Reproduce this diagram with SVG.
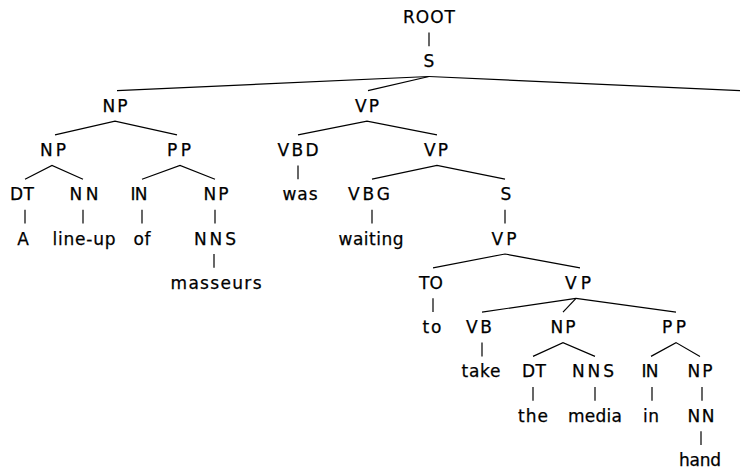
<svg xmlns="http://www.w3.org/2000/svg" width="740" height="469" viewBox="0 0 740 469">
  <style>
    text { font-family: "DejaVu Sans", Verdana, sans-serif; font-size: 17px; fill: #000; stroke: #000; stroke-width: 0.25; text-anchor: middle; }
    .edges line, .edges polyline { stroke: #000; stroke-width: 1.2; fill: none; }
  </style>
  <rect width="740" height="469" fill="#fff"/>

  <!-- tree edges -->
  <g class="edges" id="edges">
    <line x1="429" y1="32.5" x2="429" y2="46.3"/>
    <line x1="429" y1="76.5" x2="117" y2="90.6"/>
    <line x1="429" y1="76.5" x2="368" y2="90.6"/>
    <line x1="429" y1="76.5" x2="740" y2="90.7"/>
    <polyline points="55,134.9 115,121.1 177,134.9"/>
    <polyline points="298,134.9 367,121.1 437,134.9"/>
    <polyline points="25,179.2 52,165.4 83,179.2"/>
    <polyline points="142,179.2 180,165.4 215,179.2"/>
    <line x1="298" y1="165.4" x2="298" y2="179.2"/>
    <polyline points="372,179.2 437,165.4 505,179.2"/>
    <line x1="25" y1="209.7" x2="25" y2="223.5"/>
    <line x1="83" y1="209.7" x2="83" y2="223.5"/>
    <line x1="142" y1="209.7" x2="142" y2="223.5"/>
    <line x1="215" y1="209.7" x2="215" y2="223.5"/>
    <line x1="372" y1="209.7" x2="372" y2="223.5"/>
    <line x1="505" y1="209.7" x2="505" y2="223.5"/>
    <line x1="214" y1="254" x2="214" y2="267.8"/>
    <polyline points="433,267.8 505,254 580,267.8"/>
    <line x1="433" y1="298.3" x2="433" y2="312.1"/>
    <line x1="576" y1="298.3" x2="482" y2="312.1"/>
    <line x1="576" y1="298.3" x2="563" y2="312.1"/>
    <line x1="576" y1="298.3" x2="676" y2="312.1"/>
    <line x1="482" y1="342.6" x2="482" y2="356.4"/>
    <polyline points="533,356.4 563,342.6 595,356.4"/>
    <polyline points="651,356.4 676,342.6 700,356.4"/>
    <line x1="533" y1="386.9" x2="533" y2="400.7"/>
    <line x1="595" y1="386.9" x2="595" y2="400.7"/>
    <line x1="652" y1="386.9" x2="652" y2="400.7"/>
    <line x1="702" y1="386.9" x2="702" y2="400.7"/>
    <line x1="701" y1="431.2" x2="701" y2="445"/>
  </g>

  <!-- level 0-1 -->
  <g id="n-root"><text x="429" y="23" textLength="52" lengthAdjust="spacing">ROOT</text></g>
  <g id="n-s"><text x="429" y="67.3">S</text></g>

  <!-- level 2 -->
  <g id="n-np-subj"><text x="115" y="111.6" textLength="25" lengthAdjust="spacing">NP</text></g>
  <g id="n-vp-main"><text x="367" y="111.6" textLength="24" lengthAdjust="spacing">VP</text></g>

  <!-- level 3 -->
  <g id="n-np-head"><text x="53" y="155.9" textLength="26" lengthAdjust="spacing">NP</text></g>
  <g id="n-pp-of"><text x="179" y="155.9" textLength="24" lengthAdjust="spacing">PP</text></g>
  <g id="n-vbd"><text x="298" y="155.9" textLength="41" lengthAdjust="spacing">VBD</text></g>
  <g id="n-vp-prog"><text x="436" y="155.9" textLength="24" lengthAdjust="spacing">VP</text></g>

  <!-- level 4 -->
  <g id="n-dt-a"><text x="22" y="200.2" textLength="24" lengthAdjust="spacing">DT</text></g>
  <g id="n-nn-lineup"><text x="84" y="200.2" textLength="29" lengthAdjust="spacing">NN</text></g>
  <g id="n-in-of"><text x="139" y="200.2" textLength="17" lengthAdjust="spacing">IN</text></g>
  <g id="n-np-masseurs"><text x="216" y="200.2" textLength="25" lengthAdjust="spacing">NP</text></g>
  <g id="n-was"><text x="300" y="200.2" textLength="35" lengthAdjust="spacing">was</text></g>
  <g id="n-vbg"><text x="369" y="200.2" textLength="42" lengthAdjust="spacing">VBG</text></g>
  <g id="n-s-inf"><text x="506" y="200.2">S</text></g>

  <!-- level 5 -->
  <g id="n-a"><text x="23" y="244.5">A</text></g>
  <g id="n-lineup"><text x="84" y="244.5" textLength="63" lengthAdjust="spacing">line-up</text></g>
  <g id="n-of"><text x="142" y="244.5" textLength="17" lengthAdjust="spacing">of</text></g>
  <g id="n-nns-masseurs"><text x="215" y="244.5" textLength="42" lengthAdjust="spacing">NNS</text></g>
  <g id="n-waiting"><text x="371" y="244.5" textLength="65" lengthAdjust="spacing">waiting</text></g>
  <g id="n-vp-inf"><text x="504" y="244.5" textLength="25" lengthAdjust="spacing">VP</text></g>

  <!-- level 6 -->
  <g id="n-masseurs"><text x="216" y="288.8" textLength="91" lengthAdjust="spacing">masseurs</text></g>
  <g id="n-to-tag"><text x="431" y="288.8" textLength="24" lengthAdjust="spacing">TO</text></g>
  <g id="n-vp-take"><text x="578" y="288.8" textLength="26" lengthAdjust="spacing">VP</text></g>

  <!-- level 7 -->
  <g id="n-to"><text x="432" y="333.1" textLength="19" lengthAdjust="spacing">to</text></g>
  <g id="n-vb"><text x="479" y="333.1" textLength="26" lengthAdjust="spacing">VB</text></g>
  <g id="n-np-media"><text x="563" y="333.1" textLength="25" lengthAdjust="spacing">NP</text></g>
  <g id="n-pp-in"><text x="674" y="333.1" textLength="24" lengthAdjust="spacing">PP</text></g>

  <!-- level 8 -->
  <g id="n-take"><text x="481" y="377.4" textLength="39" lengthAdjust="spacing">take</text></g>
  <g id="n-dt-the"><text x="534" y="377.4" textLength="24" lengthAdjust="spacing">DT</text></g>
  <g id="n-nns-media"><text x="593" y="377.4" textLength="42" lengthAdjust="spacing">NNS</text></g>
  <g id="n-in-in"><text x="650" y="377.4" textLength="17" lengthAdjust="spacing">IN</text></g>
  <g id="n-np-hand"><text x="700" y="377.4" textLength="25" lengthAdjust="spacing">NP</text></g>

  <!-- level 9 -->
  <g id="n-the"><text x="533" y="421.7" textLength="30" lengthAdjust="spacing">the</text></g>
  <g id="n-media"><text x="595" y="421.7" textLength="54" lengthAdjust="spacing">media</text></g>
  <g id="n-in"><text x="651" y="421.7" textLength="16" lengthAdjust="spacing">in</text></g>
  <g id="n-nn-hand"><text x="701" y="421.7" textLength="27" lengthAdjust="spacing">NN</text></g>

  <!-- level 10 -->
  <g id="n-hand"><text x="700" y="466" textLength="42" lengthAdjust="spacing">hand</text></g>
</svg>
